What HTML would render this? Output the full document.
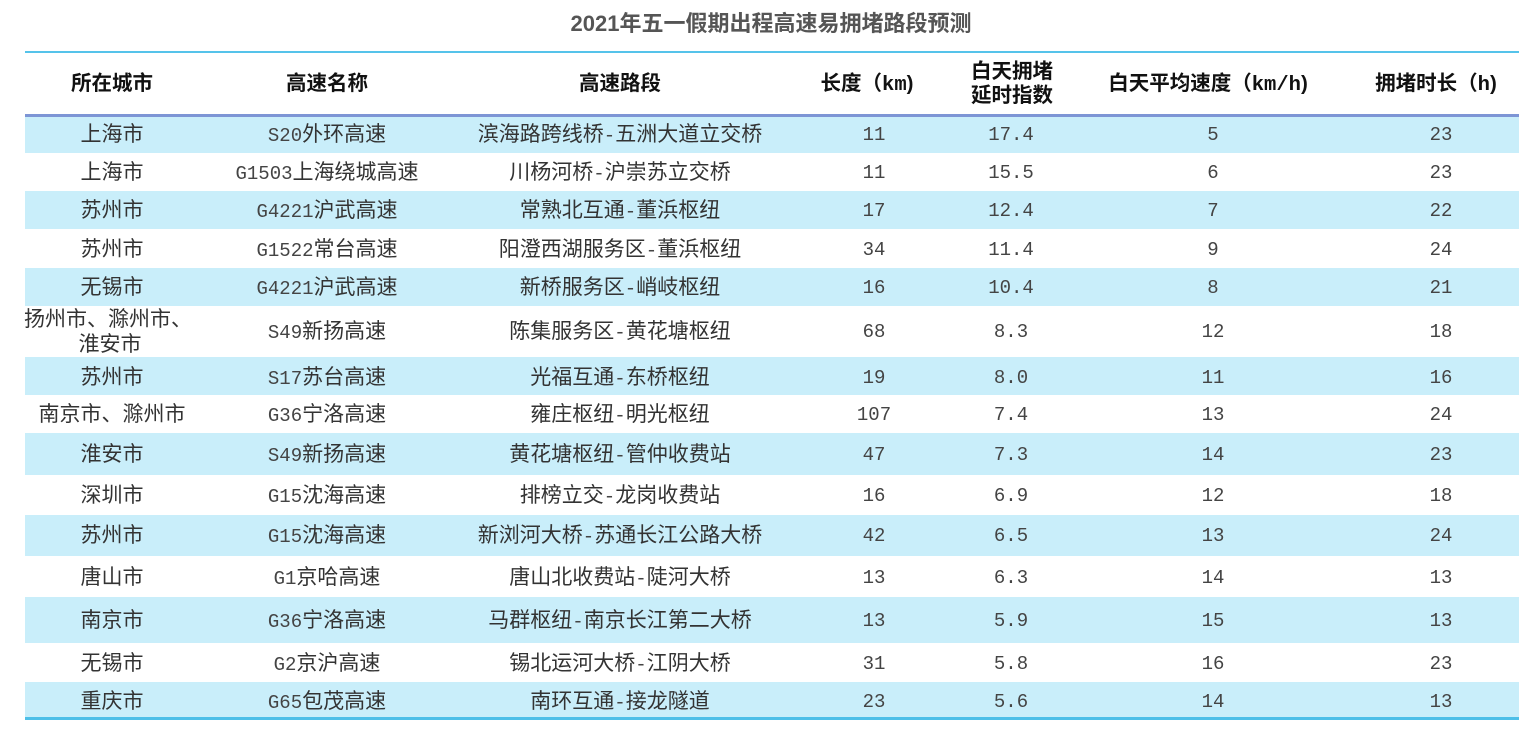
<!DOCTYPE html>
<html>
<head>
<meta charset="utf-8">
<style>
html,body{margin:0;padding:0;background:#fff;}
body{width:1535px;height:730px;position:relative;overflow:hidden;
 font-family:"Liberation Sans","Noto Sans CJK SC",sans-serif;color:#333;}
.title{position:absolute;left:0;width:1542px;top:8px;height:32px;line-height:32px;text-align:center;
 font-size:22px;font-weight:bold;color:#555;}
.hl{position:absolute;left:25px;width:1494px;}
.band{position:absolute;left:25px;width:1494px;background:#c9eefa;}
.r{position:absolute;left:0;width:1535px;height:30px;line-height:30px;font-size:21px;}
.r span.c{position:absolute;top:0;text-align:center;white-space:nowrap;}
.c1{left:-38px;width:300px;}
.c2{left:177px;width:300px;}
.c3{left:420px;width:400px;}
.c4{left:724px;width:300px;}
.c5{left:861px;width:300px;}
.c6{left:1063px;width:300px;}
.c7{left:1291px;width:300px;}
.m{font-family:"Liberation Mono",monospace;font-size:19px;color:#444;}
.h{position:absolute;font-size:20.5px;font-weight:bold;color:#111;text-align:center;white-space:nowrap;line-height:24px;}
</style>
</head>
<body>
<div class="title">2021年五一假期出程高速易拥堵路段预测</div>

<div class="hl" style="top:51px;height:2px;background:#55c3ea;"></div>

<!-- header -->
<div class="h" style="left:12px;width:200px;top:72px;">所在城市</div>
<div class="h" style="left:227px;width:200px;top:72px;">高速名称</div>
<div class="h" style="left:520px;width:200px;top:72px;">高速路段</div>
<div class="h" style="left:767px;width:200px;top:72px;">长度（<span style="font-family:'Liberation Mono',monospace;">km</span>)</div>
<div class="h" style="left:912px;width:200px;top:60px;">白天拥堵<br>延时指数</div>
<div class="h" style="left:1058px;width:300px;top:72px;">白天平均速度（<span style="font-family:'Liberation Mono',monospace;">km/h</span>)</div>
<div class="h" style="left:1336px;width:200px;top:72px;">拥堵时长（<span style="font-family:'Liberation Mono',monospace;">h</span>)</div>

<!-- bands -->
<div class="band" style="top:117px;height:36px;"></div>
<div class="band" style="top:191px;height:38px;"></div>
<div class="band" style="top:268px;height:38px;"></div>
<div class="band" style="top:357px;height:38px;"></div>
<div class="band" style="top:433px;height:42px;"></div>
<div class="band" style="top:515px;height:41px;"></div>
<div class="band" style="top:597px;height:46px;"></div>
<div class="band" style="top:682px;height:35px;"></div>

<div class="hl" style="top:114px;height:3px;background:#7d95d5;"></div>
<div class="hl" style="top:717px;height:3px;background:#4dbfe8;"></div>

<!-- rows -->
<div class="r" style="top:120px;"><span class="c c1">上海市</span><span class="c c2"><span class="m">S20</span>外环高速</span><span class="c c3">滨海路跨线桥<span class="m">-</span>五洲大道立交桥</span><span class="c c4 m">11</span><span class="c c5 m">17.4</span><span class="c c6 m">5</span><span class="c c7 m">23</span></div>

<div class="r" style="top:158px;"><span class="c c1">上海市</span><span class="c c2"><span class="m">G1503</span>上海绕城高速</span><span class="c c3">川杨河桥<span class="m">-</span>沪崇苏立交桥</span><span class="c c4 m">11</span><span class="c c5 m">15.5</span><span class="c c6 m">6</span><span class="c c7 m">23</span></div>

<div class="r" style="top:196px;"><span class="c c1">苏州市</span><span class="c c2"><span class="m">G4221</span>沪武高速</span><span class="c c3">常熟北互通<span class="m">-</span>董浜枢纽</span><span class="c c4 m">17</span><span class="c c5 m">12.4</span><span class="c c6 m">7</span><span class="c c7 m">22</span></div>

<div class="r" style="top:235px;"><span class="c c1">苏州市</span><span class="c c2"><span class="m">G1522</span>常台高速</span><span class="c c3">阳澄西湖服务区<span class="m">-</span>董浜枢纽</span><span class="c c4 m">34</span><span class="c c5 m">11.4</span><span class="c c6 m">9</span><span class="c c7 m">24</span></div>

<div class="r" style="top:273px;"><span class="c c1">无锡市</span><span class="c c2"><span class="m">G4221</span>沪武高速</span><span class="c c3">新桥服务区<span class="m">-</span>峭岐枢纽</span><span class="c c4 m">16</span><span class="c c5 m">10.4</span><span class="c c6 m">8</span><span class="c c7 m">21</span></div>

<div class="r" style="top:305px;"><span class="c c1" style="left:-42px;">扬州市、滁州市、</span></div>
<div class="r" style="top:330px;"><span class="c c1" style="left:-40px;">淮安市</span></div>
<div class="r" style="top:317px;"><span class="c c2"><span class="m">S49</span>新扬高速</span><span class="c c3">陈集服务区<span class="m">-</span>黄花塘枢纽</span><span class="c c4 m">68</span><span class="c c5 m">8.3</span><span class="c c6 m">12</span><span class="c c7 m">18</span></div>

<div class="r" style="top:363px;"><span class="c c1">苏州市</span><span class="c c2"><span class="m">S17</span>苏台高速</span><span class="c c3">光福互通<span class="m">-</span>东桥枢纽</span><span class="c c4 m">19</span><span class="c c5 m">8.0</span><span class="c c6 m">11</span><span class="c c7 m">16</span></div>

<div class="r" style="top:400px;"><span class="c c1">南京市、滁州市</span><span class="c c2"><span class="m">G36</span>宁洛高速</span><span class="c c3">雍庄枢纽<span class="m">-</span>明光枢纽</span><span class="c c4 m">107</span><span class="c c5 m">7.4</span><span class="c c6 m">13</span><span class="c c7 m">24</span></div>

<div class="r" style="top:440px;"><span class="c c1">淮安市</span><span class="c c2"><span class="m">S49</span>新扬高速</span><span class="c c3">黄花塘枢纽<span class="m">-</span>管仲收费站</span><span class="c c4 m">47</span><span class="c c5 m">7.3</span><span class="c c6 m">14</span><span class="c c7 m">23</span></div>

<div class="r" style="top:481px;"><span class="c c1">深圳市</span><span class="c c2"><span class="m">G15</span>沈海高速</span><span class="c c3">排榜立交<span class="m">-</span>龙岗收费站</span><span class="c c4 m">16</span><span class="c c5 m">6.9</span><span class="c c6 m">12</span><span class="c c7 m">18</span></div>

<div class="r" style="top:521px;"><span class="c c1">苏州市</span><span class="c c2"><span class="m">G15</span>沈海高速</span><span class="c c3">新浏河大桥<span class="m">-</span>苏通长江公路大桥</span><span class="c c4 m">42</span><span class="c c5 m">6.5</span><span class="c c6 m">13</span><span class="c c7 m">24</span></div>

<div class="r" style="top:563px;"><span class="c c1">唐山市</span><span class="c c2"><span class="m">G1</span>京哈高速</span><span class="c c3">唐山北收费站<span class="m">-</span>陡河大桥</span><span class="c c4 m">13</span><span class="c c5 m">6.3</span><span class="c c6 m">14</span><span class="c c7 m">13</span></div>

<div class="r" style="top:606px;"><span class="c c1">南京市</span><span class="c c2"><span class="m">G36</span>宁洛高速</span><span class="c c3">马群枢纽<span class="m">-</span>南京长江第二大桥</span><span class="c c4 m">13</span><span class="c c5 m">5.9</span><span class="c c6 m">15</span><span class="c c7 m">13</span></div>

<div class="r" style="top:649px;"><span class="c c1">无锡市</span><span class="c c2"><span class="m">G2</span>京沪高速</span><span class="c c3">锡北运河大桥<span class="m">-</span>江阴大桥</span><span class="c c4 m">31</span><span class="c c5 m">5.8</span><span class="c c6 m">16</span><span class="c c7 m">23</span></div>

<div class="r" style="top:687px;"><span class="c c1">重庆市</span><span class="c c2"><span class="m">G65</span>包茂高速</span><span class="c c3">南环互通<span class="m">-</span>接龙隧道</span><span class="c c4 m">23</span><span class="c c5 m">5.6</span><span class="c c6 m">14</span><span class="c c7 m">13</span></div>

</body>
</html>
